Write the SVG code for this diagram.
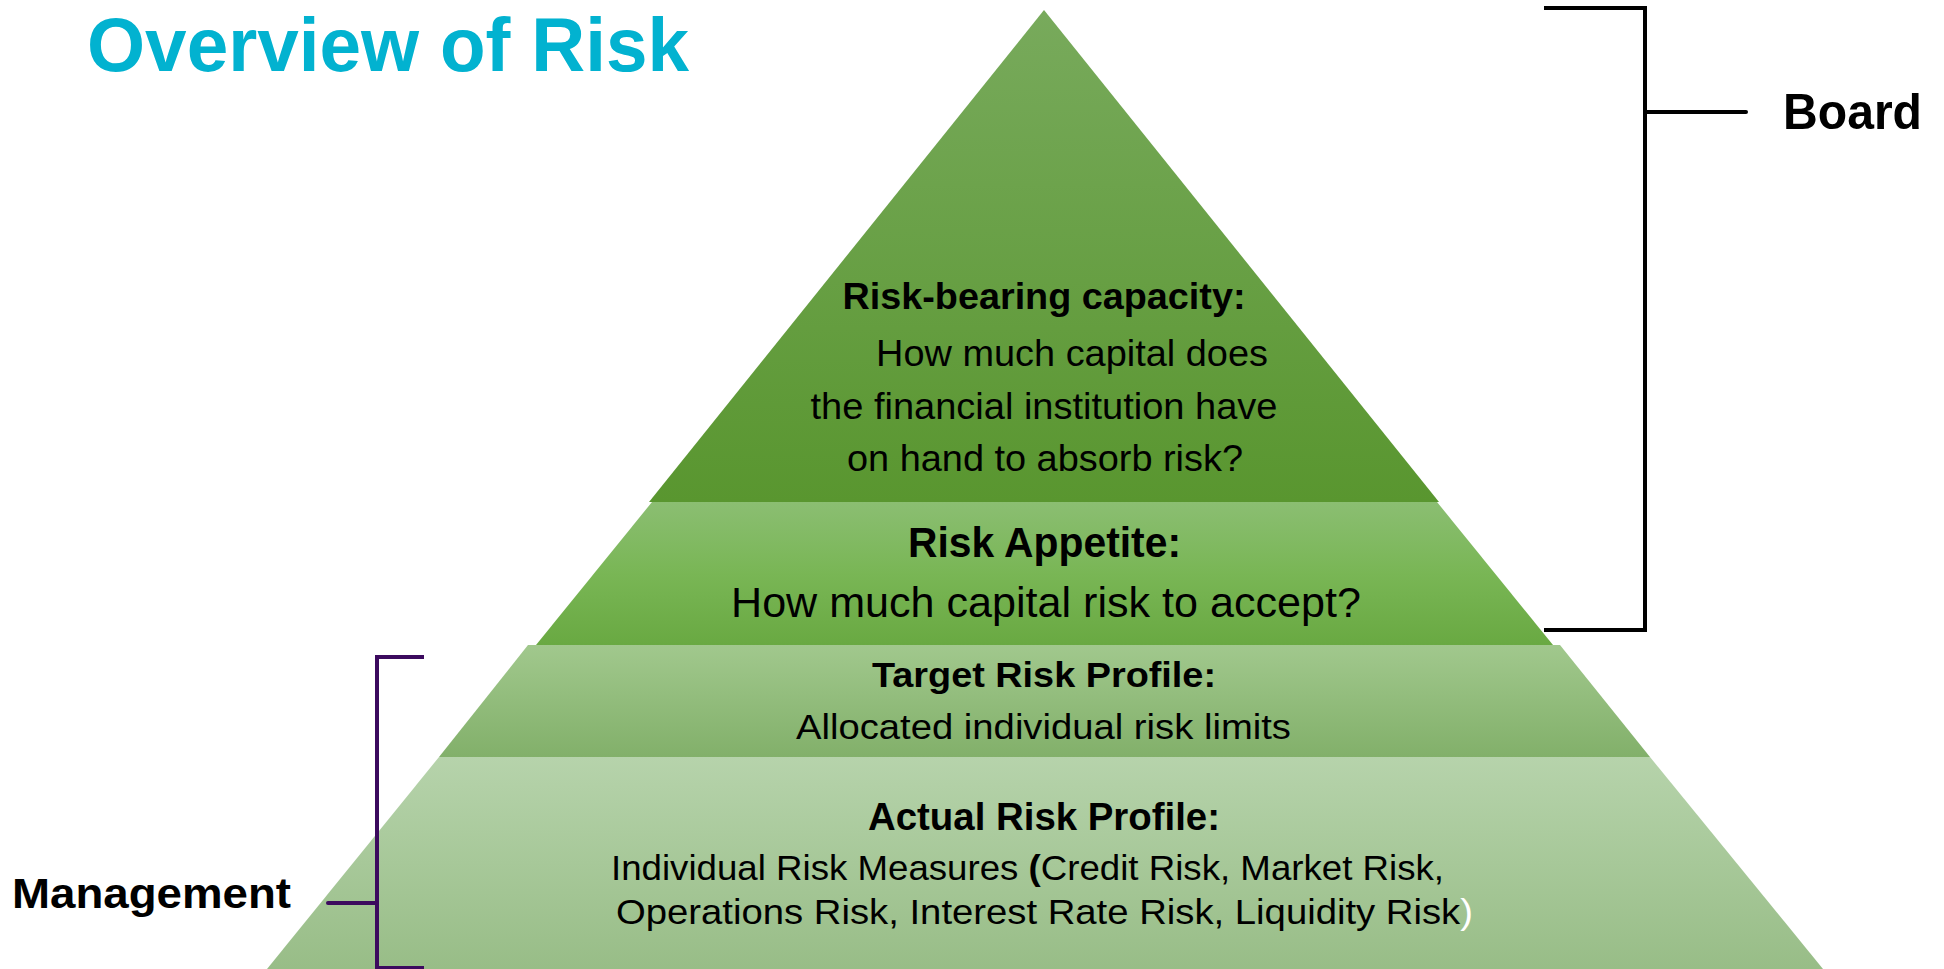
<svg xmlns="http://www.w3.org/2000/svg" width="1944" height="969" viewBox="0 0 1944 969">
  <style>
    .title { font-family: "Liberation Sans", Arial, sans-serif; font-weight: bold; fill: #02b2d0; }
    .side { font-family: "Liberation Sans", Arial, sans-serif; font-weight: bold; fill: #000; }
    .hd { font-family: "Liberation Sans", Arial, sans-serif; font-weight: bold; fill: #000; }
    .tx { font-family: "Liberation Sans", Arial, sans-serif; fill: #000; }
    .nhd { font-family: "Liberation Sans Narrow", "Liberation Sans", Arial, sans-serif; font-weight: bold; fill: #000; }
    .ntx { font-family: "Liberation Sans Narrow", "Liberation Sans", Arial, sans-serif; fill: #000; }
    .board { fill: none; stroke: #000; stroke-width: 4; }
    .mgmt { fill: none; stroke: #3c0a5e; stroke-width: 4; }
  </style>
  <defs>
    <linearGradient id="g1" x1="0" y1="0" x2="0" y2="1">
      <stop offset="0" stop-color="#78aa5c"/>
      <stop offset="1" stop-color="#59962f"/>
    </linearGradient>
    <linearGradient id="g2" x1="0" y1="0" x2="0" y2="1">
      <stop offset="0" stop-color="#8bbe72"/>
      <stop offset="0.5" stop-color="#79b655"/>
      <stop offset="1" stop-color="#69a942"/>
    </linearGradient>
    <linearGradient id="g3" x1="0" y1="0" x2="0" y2="1">
      <stop offset="0" stop-color="#a1c88d"/>
      <stop offset="1" stop-color="#82b06a"/>
    </linearGradient>
    <linearGradient id="g4" x1="0" y1="0" x2="0" y2="1">
      <stop offset="0" stop-color="#b6d3ab"/>
      <stop offset="1" stop-color="#98bd87"/>
    </linearGradient>
  </defs>

  <rect width="1944" height="969" fill="#fff"/>

  <text class="title" x="87" y="71" font-size="76" textLength="602" lengthAdjust="spacingAndGlyphs">Overview of Risk</text>

  <!-- pyramid tiers -->
  <g id="tier-capacity">
    <polygon points="1044,10 1439,502 649,502" fill="url(#g1)"/>
    <text class="hd" x="1044" y="309" font-size="36" text-anchor="middle" textLength="403" lengthAdjust="spacingAndGlyphs">Risk-bearing capacity:</text>
    <text class="tx" x="876" y="366" font-size="37" textLength="392" lengthAdjust="spacingAndGlyphs">How much capital does</text>
    <text class="tx" x="1044" y="419" font-size="37" text-anchor="middle" textLength="467" lengthAdjust="spacingAndGlyphs">the financial institution have</text>
    <text class="tx" x="1045" y="471" font-size="37" text-anchor="middle" textLength="396" lengthAdjust="spacingAndGlyphs">on hand to absorb risk?</text>
  </g>

  <g id="tier-appetite">
    <polygon points="652,502 1437,502 1553,645 536,645" fill="url(#g2)"/>
    <text class="nhd" x="1044.5" y="557" font-size="42" text-anchor="middle" textLength="273" lengthAdjust="spacingAndGlyphs">Risk Appetite:</text>
    <text class="ntx" x="1046" y="617" font-size="43" text-anchor="middle" textLength="630" lengthAdjust="spacingAndGlyphs">How much capital risk to accept?</text>
  </g>

  <g id="tier-target">
    <polygon points="528,645 1560,645 1650,757 439,757" fill="url(#g3)"/>
    <text class="hd" x="1044" y="687" font-size="35" text-anchor="middle" textLength="344" lengthAdjust="spacingAndGlyphs">Target Risk Profile:</text>
    <text class="tx" x="1043.5" y="739" font-size="35" text-anchor="middle" textLength="495" lengthAdjust="spacingAndGlyphs">Allocated individual risk limits</text>
  </g>

  <g id="tier-actual">
    <polygon points="439,757 1650,757 1823,969 267,969" fill="url(#g4)"/>
    <text class="nhd" x="1044" y="830" font-size="38" text-anchor="middle" textLength="352" lengthAdjust="spacingAndGlyphs">Actual Risk Profile:</text>
    <text class="ntx" x="611" y="880" font-size="35" textLength="833" lengthAdjust="spacingAndGlyphs">Individual Risk Measures <tspan font-weight="bold">(</tspan>Credit Risk, Market Risk,</text>
    <text class="ntx" x="616" y="924" font-size="35" textLength="857" lengthAdjust="spacingAndGlyphs">Operations Risk, Interest Rate Risk, Liquidity Risk<tspan fill="#fff">)</tspan></text>
  </g>

  <!-- responsibility brackets -->
  <g id="connectors">
    <path class="board" d="M1544,8 H1645 V630 H1544"/>
    <path class="board" d="M1645,112 H1746" stroke-linecap="round"/>
    <path class="mgmt" d="M424,657 H377 V968 H424"/>
    <path class="mgmt" d="M328,903 H377" stroke-linecap="round"/>
  </g>

  <g id="label-board">
    <text class="side" x="1783" y="129" font-size="50" textLength="139" lengthAdjust="spacingAndGlyphs">Board</text>
  </g>
  <g id="label-management">
    <text class="side" x="12" y="908" font-size="42" textLength="279" lengthAdjust="spacingAndGlyphs">Management</text>
  </g>
</svg>
